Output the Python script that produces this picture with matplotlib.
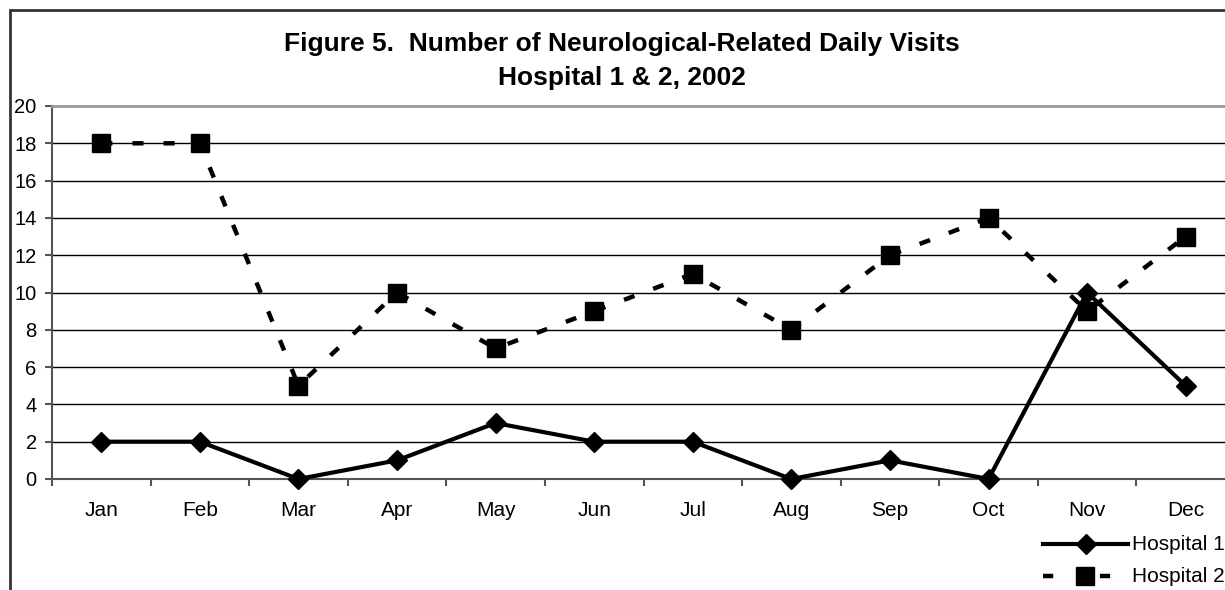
import matplotlib
matplotlib.use("Agg")
from matplotlib import pyplot as plt
from matplotlib.lines import Line2D
from matplotlib.patches import Rectangle

months = ['Jan', 'Feb', 'Mar', 'Apr', 'May', 'Jun',
          'Jul', 'Aug', 'Sep', 'Oct', 'Nov', 'Dec']
hospital_1 = [2, 2, 0, 1, 3, 2, 2, 0, 1, 0, 10, 5]
hospital_2 = [18, 18, 5, 10, 7, 9, 11, 8, 12, 14, 9, 13]
y_ticks = list(range(0, 21, 2))

plt.rcParams['font.family'] = ['Liberation Sans', 'DejaVu Sans']

W, H = 1225, 590
fig = plt.figure(figsize=(W / 100, H / 100), dpi=100)

# plot area runs past the right edge of the picture (cropped chart)
ax = fig.add_axes([52 / W, 1 - 479 / H, 1183 / W, 373 / H])

x = list(range(len(months)))
dash_style = (0, (2.5, 4.5))

ax.plot(x, hospital_1, color='black', lw=3, marker='D', ms=10.5,
        mec='black', mew=1, clip_on=False, zorder=4)
ax.plot(x, hospital_2, color='black', lw=3.2, linestyle=dash_style,
        dash_capstyle='butt', marker='s', ms=13.5, mec='black', mew=1,
        clip_on=False, zorder=3)

ax.set_xlim(-0.5, 11.5)
ax.set_ylim(0, 20)
ax.set_yticks(y_ticks)
ax.set_yticklabels([str(v) for v in y_ticks], fontsize=14.5)
ax.set_xticks(x)
ax.set_xticklabels(months, fontsize=15)
ax.set_xticks([i + 0.5 for i in range(-1, 12)], minor=True)
ax.tick_params(axis='x', which='major', length=0, pad=16)
ax.tick_params(axis='x', which='minor', length=5, width=1.5, color='#555555')
ax.tick_params(axis='y', length=5, width=1.5, color='#555555', pad=6)

for v in y_ticks[1:-1]:
    ax.axhline(v, color='black', lw=1, zorder=1)

ax.spines['right'].set_visible(False)
ax.spines['top'].set_color('#999999')
ax.spines['top'].set_linewidth(2)
ax.spines['left'].set_color('#555555')
ax.spines['left'].set_linewidth(1.5)
ax.spines['bottom'].set_color('#555555')
ax.spines['bottom'].set_linewidth(1.5)

# chart title
fig.text(622 / W, 1 - 44 / H, 'Figure 5.  Number of Neurological-Related Daily Visits',
         ha='center', va='center', fontsize=19, fontweight='bold')
fig.text(622 / W, 1 - 78 / H, 'Hospital 1 & 2, 2002',
         ha='center', va='center', fontsize=19, fontweight='bold')

# legend, drawn by hand (partly cut off at the right)
y1 = 1 - 544 / H
y2 = 1 - 576 / H
fig.add_artist(Line2D([1043 / W, 1128 / W], [y1, y1], color='black', lw=3,
                      transform=fig.transFigure))
fig.add_artist(Line2D([1086 / W], [y1], marker='D', ms=10.5, color='black',
                      transform=fig.transFigure))
fig.add_artist(Line2D([1043 / W, 1116 / W], [y2, y2], color='black', lw=3.2,
                      linestyle=(0, (2.3, 10.5)), dash_capstyle='butt',
                      transform=fig.transFigure))
fig.add_artist(Line2D([1085 / W], [y2], marker='s', ms=13.5, color='black',
                      transform=fig.transFigure))
fig.text(1132 / W, y1, 'Hospital 1', ha='left', va='center', fontsize=15)
fig.text(1132 / W, y2, 'Hospital 2', ha='left', va='center', fontsize=15)

# outer chart border
fig.add_artist(Rectangle((10 / W, -0.1), 1.2, 1.1 - 10 / H, fill=False,
                         lw=2, edgecolor='#333333', transform=fig.transFigure))

fig.savefig('out.png', dpi=100)
